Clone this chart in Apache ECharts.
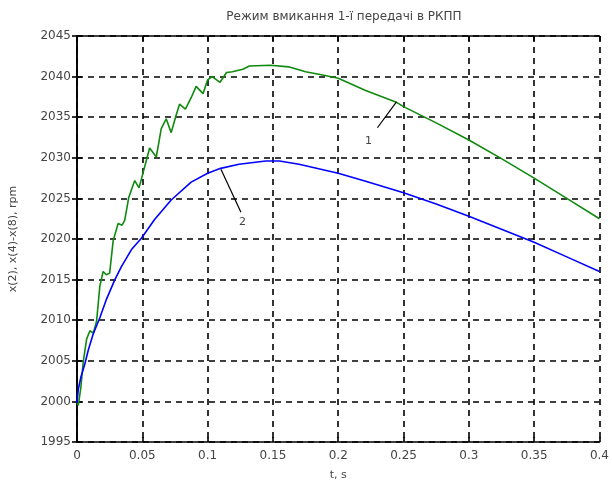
<!DOCTYPE html>
<html>
<head>
<meta charset="utf-8">
<script src="https://cdn.jsdelivr.net/npm/echarts@6/dist/echarts.min.js"></script>
<style>html,body{margin:0;padding:0;background:#fff}#c{width:612px;height:486px}</style>
</head>
<body>
<div id="c"></div>
<script>
var titleText = 'Режим вмикання 1-ї передачі в РКПП';
var xName = 't, s';
var yName = 'x(2), x(4)-x(8), rpm';
var xMin = 0, xMax = 0.4, xStep = 0.05;
var yMin = 1995, yMax = 2045, yStep = 5;

// curve 1 (green): [t, rpm]
var curve1 = [
 [0,1999.8],[0.001,1999.5],[0.003,2001.8],[0.0048,2004.9],[0.0074,2007.7],[0.0099,2008.7],
 [0.0125,2008.4],[0.015,2009.9],[0.0175,2014.2],[0.020,2016.0],[0.0225,2015.6],[0.025,2015.8],
 [0.0277,2019.8],[0.0315,2021.9],[0.0345,2021.7],[0.0365,2022.3],[0.0396,2025.1],[0.0442,2027.2],
 [0.0475,2026.3],[0.0518,2028.9],[0.0556,2031.2],[0.0607,2030.1],[0.0645,2033.6],[0.0683,2034.8],
 [0.0721,2033.1],[0.0760,2035.3],[0.0785,2036.6],[0.0830,2036.0],[0.0874,2037.4],[0.0912,2038.8],
 [0.0965,2037.9],[0.100,2039.6],[0.1035,2040.0],[0.1095,2039.3],[0.1145,2040.5],[0.119,2040.6],
 [0.127,2040.9],[0.132,2041.3],[0.148,2041.4],[0.162,2041.2],[0.175,2040.6],[0.188,2040.2],
 [0.200,2039.8],[0.221,2038.3],[0.245,2036.8],[0.25,2036.3],[0.275,2034.3],[0.30,2032.2],
 [0.325,2029.9],[0.35,2027.5],[0.375,2025.0],[0.40,2022.5]
];
// curve 2 (blue): [t, rpm]
var curve2 = [
 [0,1999.8],[0.001,2001.5],[0.003,2003.0],[0.006,2004.6],[0.0086,2006.3],[0.0124,2008.3],
 [0.0175,2010.3],[0.0226,2012.6],[0.029,2015.0],[0.034,2016.6],[0.0417,2018.7],[0.0493,2020.1],
 [0.0594,2022.4],[0.0721,2024.8],[0.0874,2027.0],[0.1,2028.1],[0.110,2028.7],[0.124,2029.2],
 [0.1446,2029.6],[0.155,2029.6],[0.170,2029.2],[0.2,2028.1],[0.221,2027.1],[0.25,2025.7],
 [0.275,2024.3],[0.3,2022.8],[0.325,2021.2],[0.35,2019.6],[0.375,2017.8],[0.4,2016.0]
];
// annotation leader lines and labels (data coords)
var leader1 = [[0.2446,2036.9],[0.230,2033.7]];
var label1 = {text:'1', at:[0.2232,2032.0]};
var leader2 = [[0.1102,2028.6],[0.1255,2023.3]];
var label2 = {text:'2', at:[0.1268,2022.1]};

var FONT = 'DejaVu Sans';
var chart = echarts.init(document.getElementById('c'), null, {renderer:'canvas'});
var gridLine = {show:true, lineStyle:{color:'#000', width:1.6, type:[6,5]}};
var axLine = {show:true, lineStyle:{color:'#000', width:1.6}};
var tick = {show:true, inside:true, length:5, lineStyle:{color:'#000', width:1.6}};

function annLine(pts, lab){
  return {
    type:'line', data:pts, symbol:'none', silent:true, z:5,
    lineStyle:{color:'#000', width:1.2},
    markPoint:{symbol:'circle', symbolSize:0, silent:true,
      label:{show:true, formatter:lab.text, color:'#444', fontFamily:FONT, fontSize:11, position:'inside'},
      data:[{coord:lab.at}]}
  };
}

chart.setOption({
  animation:false,
  backgroundColor:'#fff',
  title:{text:titleText, left:339, top:6, textAlign:'center',
    textStyle:{fontFamily:FONT, fontSize:12, fontWeight:'normal', color:'#444'}},
  grid:{left:77, right:10, top:36, bottom:38, containLabel:false},
  xAxis:[{
    type:'value', min:xMin, max:xMax, interval:xStep,
    name:xName, nameLocation:'middle', nameGap:28,
    nameTextStyle:{fontFamily:FONT, fontSize:11, color:'#444'},
    axisLine:axLine, axisTick:tick, splitLine:gridLine,
    axisLabel:{fontFamily:FONT, fontSize:12, color:'#444', margin:8,
      formatter:function(v){return String(+v.toFixed(2));}}
  },{
    type:'value', min:xMin, max:xMax, interval:xStep, position:'top',
    axisLine:axLine, axisTick:tick, splitLine:{show:false}, axisLabel:{show:false}
  }],
  yAxis:[{
    type:'value', min:yMin, max:yMax, interval:yStep,
    name:yName, nameLocation:'middle', nameGap:58, nameRotate:90,
    nameTextStyle:{fontFamily:FONT, fontSize:11, color:'#444'},
    axisLine:axLine, axisTick:tick, splitLine:gridLine,
    axisLabel:{fontFamily:FONT, fontSize:12, color:'#444', margin:6,
      formatter:function(v){return String(v);}}
  },{
    type:'value', min:yMin, max:yMax, interval:yStep, position:'right',
    axisLine:axLine, axisTick:tick, splitLine:{show:false}, axisLabel:{show:false}
  }],
  series:[
    {type:'line', name:'1', data:curve1, symbol:'none', z:4,
      lineStyle:{color:'#0f8a0f', width:1.6}},
    {type:'line', name:'2', data:curve2, symbol:'none', z:4,
      lineStyle:{color:'#0000ff', width:1.6}},
    annLine(leader1, label1),
    annLine(leader2, label2)
  ]
});
</script>
</body>
</html>
